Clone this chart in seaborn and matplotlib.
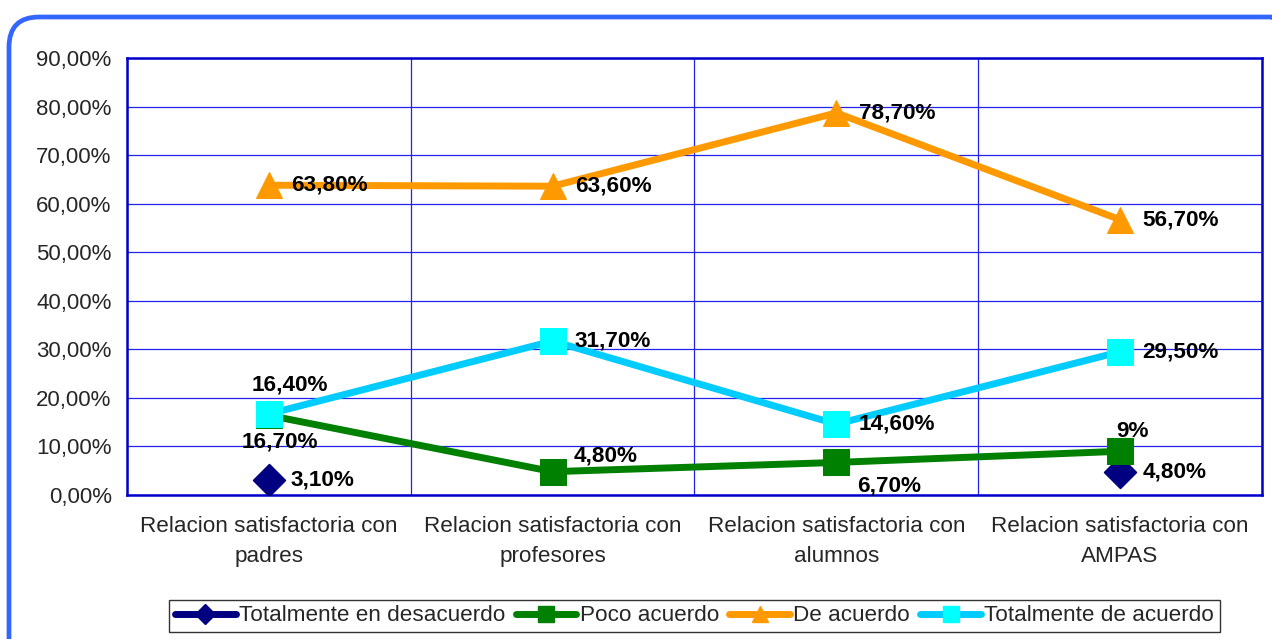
import numpy as np
import pandas as pd
import matplotlib
matplotlib.use("Agg")
import matplotlib.pyplot as plt
import seaborn as sns
from matplotlib.patches import FancyBboxPatch
from matplotlib.lines import Line2D
from matplotlib.transforms import IdentityTransform
from matplotlib.ticker import FuncFormatter, FixedLocator

# ── Data ───────────────────────────────────────────────
categories = ["Relacion satisfactoria con\npadres",
              "Relacion satisfactoria con\nprofesores",
              "Relacion satisfactoria con\nalumnos",
              "Relacion satisfactoria con\nAMPAS"]
totalmente_desacuerdo = [3.1, np.nan, np.nan, 4.8]
poco_acuerdo = [16.4, 4.8, 6.7, 9.0]
de_acuerdo = [63.8, 63.6, 78.7, 56.7]
totalmente_acuerdo = [16.7, 31.7, 14.6, 29.5]
yticks = [0, 10, 20, 30, 40, 50, 60, 70, 80, 90]
legend_labels = ["Totalmente en desacuerdo", "Poco acuerdo", "De acuerdo",
                 "Totalmente de acuerdo"]

def fmt_label(v):
    if float(v).is_integer():
        return f"{int(v)}%"
    return f"{v:.2f}%".replace(".", ",")

# ── Figure ─────────────────────────────────────────────
sns.set_style("white")
plt.rcParams['font.family'] = ['Liberation Sans', 'DejaVu Sans']

fig = plt.figure(figsize=(12.72, 6.39), dpi=100)
ax = fig.add_axes([0.0998, 0.2254, 0.8923, 0.6838])

# rounded outer border (pixel coords, runs off the right/bottom edge)
border = FancyBboxPatch((9, -60), 1292, 682,
                        boxstyle="round,pad=0,rounding_size=30",
                        transform=IdentityTransform(), fill=False,
                        edgecolor="#3366FF", linewidth=3.4, clip_on=False)
fig.patches.append(border)

x = np.arange(len(categories))

# navy series has gaps -> points only
df_nav = pd.DataFrame({"x": x, "y": totalmente_desacuerdo}).dropna()
sns.scatterplot(data=df_nav, x="x", y="y", ax=ax, marker="D", s=260,
                color="#000080", edgecolor="#000080", zorder=3)

series = [
    ("Poco acuerdo", poco_acuerdo, "#008000", "#008000", "s", 19),
    ("De acuerdo", de_acuerdo, "#FF9900", "#FF9900", "^", 19),
    ("Totalmente de acuerdo", totalmente_acuerdo, "#00CCFF", "#00FFFF", "s", 19),
]
for i, (name, vals, lc, mc, mk, ms) in enumerate(series):
    df = pd.DataFrame({"x": x, "y": vals})
    sns.lineplot(data=df, x="x", y="y", ax=ax, color=lc, linewidth=5,
                 marker=mk, markersize=ms, markerfacecolor=mc,
                 markeredgecolor=mc, zorder=4 + i)

# ── Data labels ────────────────────────────────────────
FS = 16.2
lab_kw = dict(fontsize=FS, fontweight="bold", color="black",
              textcoords="offset points", zorder=10)
R = (16, 0, "left", "center")
offsets = {
    "nav": [R, None, None, R],
    "green": [(15, 22, "center", "center"), (15, 11, "left", "center"),
              (15, -17, "left", "center"), (9, 14, "center", "center")],
    "orange": [R] * 4,
    "cyan": [(8, -20, "center", "center"), R, R, R],
}
for key, vals in [("nav", totalmente_desacuerdo), ("green", poco_acuerdo),
                  ("orange", de_acuerdo), ("cyan", totalmente_acuerdo)]:
    for xi, v in enumerate(vals):
        off = offsets[key][xi]
        if off is None or np.isnan(v):
            continue
        dx, dy, ha, va = off
        ax.annotate(fmt_label(v), (xi, v), xytext=(dx, dy), ha=ha, va=va, **lab_kw)

# ── Axes styling ───────────────────────────────────────
ax.set_xlim(-0.5, 3.5)
ax.set_ylim(0, 90)
ax.set_yticks(yticks)
ax.yaxis.set_major_formatter(FuncFormatter(lambda v, p: f"{v:.2f}%".replace(".", ",")))
ax.xaxis.set_major_locator(FixedLocator([-0.5, 0.5, 1.5, 2.5, 3.5]))
ax.xaxis.set_major_formatter(FuncFormatter(lambda v, p: ""))
ax.xaxis.set_minor_locator(FixedLocator(x))
ax.set_xticklabels(categories, minor=True, fontsize=FS, linespacing=1.6)
ax.tick_params(axis="x", which="minor", length=0, pad=15)
ax.tick_params(axis="x", which="major", length=6, color="#404040", width=1)
ax.tick_params(axis="y", length=6, color="#404040", width=1, labelsize=FS - 0.2, pad=5)
ax.set_xlabel("")
ax.set_ylabel("")

ax.grid(True, which="major", color="#2222EE", linewidth=0.9)
ax.set_axisbelow(True)
for s in ax.spines.values():
    s.set_visible(True)
    s.set_color("#0000CC")
    s.set_linewidth(1.8)

# ── Legend ─────────────────────────────────────────────
handles = [
    Line2D([], [], color="#000080", lw=5, marker="D", ms=10, markerfacecolor="#000080"),
    Line2D([], [], color="#008000", lw=5, marker="s", ms=11, markerfacecolor="#008000"),
    Line2D([], [], color="#FF9900", lw=5, marker="^", ms=11, markerfacecolor="#FF9900"),
    Line2D([], [], color="#00CCFF", lw=5, marker="s", ms=11, markerfacecolor="#00FFFF",
           markeredgecolor="#00FFFF"),
]
leg = fig.legend(handles, legend_labels, loc="center", bbox_to_anchor=(0.546, 0.036),
                 ncol=4, frameon=True, fancybox=False, fontsize=FS,
                 handlelength=2.7, handletextpad=0.15, columnspacing=0.45,
                 borderpad=0.25, borderaxespad=0, edgecolor="black")
leg.get_frame().set_linewidth(1.0)

fig.savefig("out.png", dpi=100)
